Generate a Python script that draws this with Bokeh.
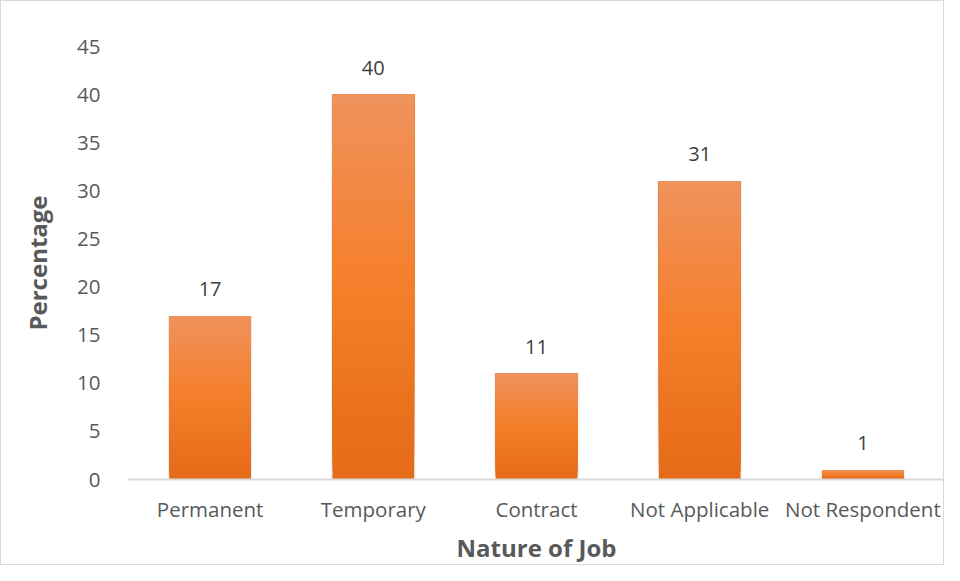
from bokeh.plotting import figure
from bokeh.models import ColumnDataSource, Range1d, FixedTicker, LabelSet
from bokeh.core.properties import value
from bokeh.embed import file_html
from bokeh.resources import INLINE

categories = ["Permanent", "Temporary", "Contract", "Not Applicable", "Not Respondent"]
values = [17, 40, 11, 31, 1]
y_ticks = [0, 5, 10, 15, 20, 25, 30, 35, 40, 45]

FONT = "Open Sans"
GREY = "#595959"

p = figure(x_range=categories, y_range=Range1d(0, 45), width=944, height=565,
           output_backend="svg", toolbar_location=None,
           min_border_left=127, min_border_right=1, min_border_top=45, min_border_bottom=86)
p.styles = {"border": "1px solid #d9d9d9"}
p.outline_line_color = None
p.background_fill_color = "white"
p.border_fill_color = "white"

# gradient bars: overlapping layers from bottom to top (light top, darker bottom)
N = 40
top_c = (0xF0, 0x92, 0x5C)
mid_c = (0xF4, 0x7E, 0x2A)
bot_c = (0xE4, 0x6B, 0x18)

def lerp(a, b, t):
    return tuple(int(round(a[k] + (b[k] - a[k]) * t)) for k in range(3))

xs, bottoms, tops, colors = [], [], [], []
for i in range(N):
    t = (i + 0.5) / N
    if t < 0.5:
        col = lerp(bot_c, mid_c, t / 0.5)
    else:
        col = lerp(mid_c, top_c, (t - 0.5) / 0.5)
    for c, v in zip(categories, values):
        xs.append(c)
        bottoms.append(v * i / N)
        tops.append(v)
        colors.append("#%02x%02x%02x" % col)

# soft shadow
shadow = ColumnDataSource(dict(x=categories, top=values))
p.vbar(x="x", top="top", bottom=0, width=0.515, source=shadow,
       fill_color="#000000", fill_alpha=0.08, line_color=None)

src = ColumnDataSource(dict(x=xs, bottom=bottoms, top=tops, color=colors))
p.vbar(x="x", top="top", bottom="bottom", width=0.5, source=src,
       fill_color="color", line_color=None)

lab_src = ColumnDataSource(dict(x=categories, top=values, text=[str(v) for v in values]))
labels = LabelSet(x="x", y="top", text="text", source=lab_src, text_align="center",
                  text_baseline="bottom", y_offset=20, text_font=value(FONT),
                  text_font_size="20px", text_color="#404040")
p.add_layout(labels)

p.xgrid.grid_line_color = None
p.ygrid.grid_line_color = None

p.yaxis.ticker = FixedTicker(ticks=y_ticks)
p.yaxis.axis_line_color = None
p.yaxis.major_tick_line_color = None
p.yaxis.minor_tick_line_color = None
p.yaxis.major_label_text_font = FONT
p.yaxis.major_label_text_font_size = "20.5px"
p.yaxis.major_label_text_color = GREY
p.yaxis.major_label_standoff = 22
p.yaxis.axis_label = "Percentage"
p.yaxis.axis_label_text_font = FONT
p.yaxis.axis_label_text_font_size = "24px"
p.yaxis.axis_label_text_font_style = "bold"
p.yaxis.axis_label_text_color = GREY
p.yaxis.axis_label_standoff = 20

p.xaxis.axis_line_color = "#d9d9d9"
p.xaxis.axis_line_width = 2
p.xaxis.major_tick_line_color = None
p.xaxis.minor_tick_line_color = None
p.xaxis.major_label_text_font = FONT
p.xaxis.major_label_text_font_size = "20.5px"
p.xaxis.major_label_text_color = GREY
p.xaxis.major_label_standoff = 9
p.xaxis.axis_label = "Nature of Job"
p.xaxis.axis_label_text_font = FONT
p.xaxis.axis_label_text_font_size = "24px"
p.xaxis.axis_label_text_font_style = "bold"
p.xaxis.axis_label_text_color = GREY
p.xaxis.axis_label_standoff = 5

open("out.html", "w").write(file_html(p, INLINE))
